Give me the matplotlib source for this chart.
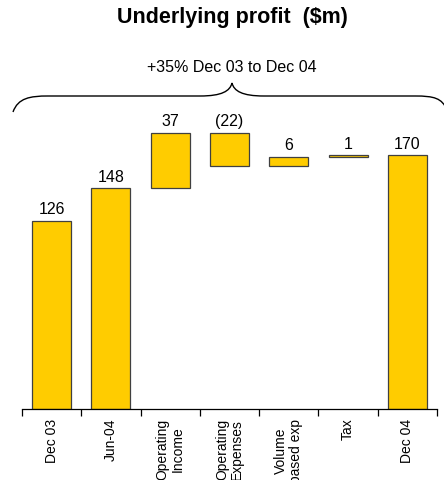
import numpy as np
import matplotlib
matplotlib.use("Agg")
import matplotlib.pyplot as plt
from matplotlib.path import Path
from matplotlib.patches import PathPatch

plt.rcParams['font.family'] = ['Liberation Sans', 'DejaVu Sans']

categories = ["Dec 03", "Jun-04", "Operating\nIncome", "Operating\nExpenses",
              "Volume\nbased exp", "Tax", "Dec 04"]
changes = [126, 22, 37, -22, 6, 1, 170]
is_total = [True, False, False, False, False, False, True]
value_labels = ["126", "148", "37", "(22)", "6", "1", "170"]
# Jun-04 is a running subtotal: 126 + 22 = 148
subtotal_idx = 1

bottoms = []
heights = []
running = 0
for i, (c, tot) in enumerate(zip(changes, is_total)):
    if tot:
        bottoms.append(0)
        heights.append(c)
        running = c
    elif i == subtotal_idx:
        running += c
        bottoms.append(0)
        heights.append(running)
    else:
        lo = min(running, running + c)
        bottoms.append(lo)
        heights.append(abs(c))
        running += c

W, H = 444, 480
fig = plt.figure(figsize=(W / 100, H / 100), dpi=100)
ax = fig.add_axes([22 / W, (H - 409) / H, 415 / W, 349 / H])

x = np.arange(len(categories))
ax.bar(x, heights, bottom=bottoms, width=0.66, color="#FFCC00",
       edgecolor="#404040", linewidth=0.9)

for xi, b, h, lab in zip(x, bottoms, heights, value_labels):
    ax.text(xi, b + h + 2.5, lab, ha="center", va="bottom", fontsize=11.5)

ax.set_xlim(-0.5, len(categories) - 0.5)
ax.set_ylim(0, 234)
for s in ["top", "right", "left"]:
    ax.spines[s].set_visible(False)
ax.spines["bottom"].set_linewidth(0.9)
ax.set_yticks([])
ax.set_xticks(x)
ax.set_xticklabels(categories, rotation=90, fontsize=10, linespacing=1.1,
                   ha="center", va="top", multialignment="center")
ax.tick_params(axis="x", which="major", length=0, pad=7)
ax.set_xticks(np.arange(-0.5, len(categories)), minor=True)
ax.tick_params(axis="x", which="minor", length=5, width=0.9, direction="out")


def px(xp, yp):
    return (xp / W, 1 - yp / H)


verts = [px(13, 112), px(18, 98), px(30, 96), px(48, 96),
         px(200, 96),
         px(222, 96), px(230, 91), px(232, 83),
         px(234, 91), px(242, 96), px(264, 96),
         px(415, 96),
         px(434, 96), px(442, 98), px(447, 110)]
codes = [Path.MOVETO, Path.CURVE4, Path.CURVE4, Path.CURVE4,
         Path.LINETO,
         Path.CURVE4, Path.CURVE4, Path.CURVE4,
         Path.CURVE4, Path.CURVE4, Path.CURVE4,
         Path.LINETO,
         Path.CURVE4, Path.CURVE4, Path.CURVE4]
fig.patches.append(PathPatch(Path(verts, codes), transform=fig.transFigure,
                             facecolor="none", edgecolor="black", linewidth=1.0))

fig.text(232 / W, 1 - 67 / H, "+35% Dec 03 to Dec 04", ha="center", va="center",
         fontsize=11.5)
fig.text(232 / W, 1 - 18 / H, "Underlying profit  ($m)", ha="center", va="center",
         fontsize=15.5, fontweight="bold")

fig.savefig("out.png", dpi=100)
